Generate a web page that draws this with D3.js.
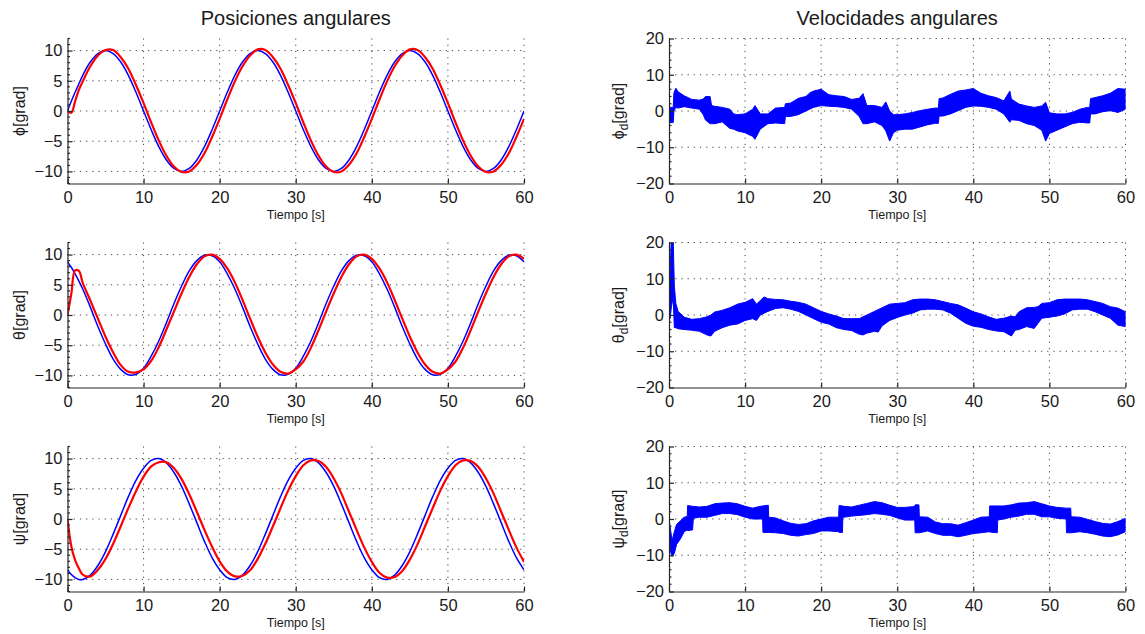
<!DOCTYPE html>
<html>
<head>
<meta charset="utf-8">
<script src="https://cdn.jsdelivr.net/npm/d3@7"></script>
<style>
  body { margin: 0; background: #fff; }
  text { font-family: "Liberation Sans", Arial, Helvetica, sans-serif; fill: #1a1a1a; }
  .grid { stroke: #444; stroke-width: 1; stroke-dasharray: 1.2 5; }
  .axis path, .axis line { stroke: #262626; stroke-width: 1.2; }
</style>
</head>
<body>
<svg id="chart" width="1145" height="634"></svg>
<script>
// ---- data ----
const xTicks = [0, 10, 20, 30, 40, 50, 60];
const posTicks = [-10, -5, 0, 5, 10];
const velTicks = [-20, -10, 0, 10, 20];

// sample times for the position curves [s]
const tPos = [0, 0.5, 1, 1.5, 2,
  3, 4, 5, 6, 7, 8, 9, 10,
  11, 12, 13, 14, 15, 16, 17, 18, 19, 20,
  21, 22, 23, 24, 25, 26, 27, 28, 29, 30,
  31, 32, 33, 34, 35, 36, 37, 38, 39, 40,
  41, 42, 43, 44, 45, 46, 47, 48, 49, 50,
  51, 52, 53, 54, 55, 56, 57, 58, 59, 60];

const phiRef = [0, 1.6, 3.1, 4.5, 5.9,
  8.1, 9.5, 10, 9.5, 8.1, 5.9, 3.1, 0,
  -3.1, -5.9, -8.1, -9.5, -10, -9.5, -8.1, -5.9, -3.1, 0,
  3.1, 5.9, 8.1, 9.5, 10, 9.5, 8.1, 5.9, 3.1, 0,
  -3.1, -5.9, -8.1, -9.5, -10, -9.5, -8.1, -5.9, -3.1, 0,
  3.1, 5.9, 8.1, 9.5, 10, 9.5, 8.1, 5.9, 3.1, 0,
  -3.1, -5.9, -8.1, -9.5, -10, -9.5, -8.1, -5.9, -3.1, 0];
const phiReal = [0, -0.3, 1.6, 3.5, 4.9,
  7.4, 9.2, 10.1, 10.1, 8.9, 7.0, 4.3, 1.3,
  -1.9, -4.9, -7.4, -9.2, -10.1, -10.0, -8.9, -7.0, -4.3, -1.3,
  1.9, 4.9, 7.4, 9.2, 10.2, 10.1, 8.9, 7.0, 4.3, 1.3,
  -1.9, -4.9, -7.4, -9.2, -10.1, -10.0, -8.9, -7.0, -4.3, -1.3,
  1.9, 4.9, 7.4, 9.2, 10.2, 10.1, 8.9, 7.0, 4.3, 1.3,
  -1.9, -4.9, -7.4, -9.2, -10.1, -10.0, -8.9, -7.0, -4.3, -1.3];

const thetaRef = [8.8, 7.9, 6.8, 5.6, 4.3,
  1.3, -1.9, -4.8, -7.3, -9.0, -9.9, -9.8, -8.8,
  -6.8, -4.3, -1.3, 1.9, 4.8, 7.3, 9.0, 9.9, 9.8, 8.8,
  6.8, 4.3, 1.3, -1.9, -4.8, -7.3, -9.0, -9.9, -9.8, -8.8,
  -6.8, -4.3, -1.3, 1.9, 4.8, 7.3, 9.0, 9.9, 9.8, 8.8,
  6.8, 4.3, 1.3, -1.9, -4.8, -7.3, -9.0, -9.9, -9.8, -8.8,
  -6.8, -4.3, -1.3, 1.9, 4.8, 7.3, 9.0, 9.9, 9.8, 8.8];
const thetaReal = [0, 3.5, 7.4, 7.3, 5.3,
  2.4, -0.6, -3.6, -6.2, -8.3, -9.4, -9.5, -9.0,
  -7.6, -5.3, -2.4, 0.6, 3.6, 6.3, 8.4, 9.7, 10.0, 9.3,
  7.7, 5.4, 2.5, -0.6, -3.6, -6.2, -8.2, -9.4, -9.7, -9.0,
  -7.7, -5.4, -2.5, 0.6, 3.6, 6.3, 8.4, 9.7, 10.0, 9.3,
  7.7, 5.4, 2.5, -0.6, -3.6, -6.2, -8.2, -9.4, -9.7, -9.0,
  -7.7, -5.4, -2.5, 0.6, 3.6, 6.3, 8.4, 9.7, 10.0, 9.3];

const psiRef = [-8.4, -9.2, -9.7, -10.0, -10.0,
  -9.3, -7.7, -5.4, -2.5, 0.6, 3.7, 6.4, 8.4,
  9.7, 10.0, 9.3, 7.7, 5.4, 2.5, -0.6, -3.7, -6.4, -8.4,
  -9.7, -10.0, -9.3, -7.7, -5.4, -2.5, 0.6, 3.7, 6.4, 8.4,
  9.7, 10.0, 9.3, 7.7, 5.4, 2.5, -0.6, -3.7, -6.4, -8.4,
  -9.7, -10.0, -9.3, -7.7, -5.4, -2.5, 0.6, 3.7, 6.4, 8.4,
  9.7, 10.0, 9.3, 7.7, 5.4, 2.5, -0.6, -3.7, -6.4, -8.4];
const psiReal = [0, -4.5, -6.8, -8.2, -9.2,
  -9.5, -8.4, -6.6, -4.1, -1.2, 1.8, 4.6, 7.0,
  8.7, 9.4, 9.4, 8.4, 6.6, 4.1, 1.2, -1.8, -4.6, -7.0,
  -8.7, -9.5, -9.4, -8.5, -6.6, -4.1, -1.2, 1.8, 4.7, 7.1,
  8.9, 9.7, 9.6, 8.6, 6.7, 4.2, 1.2, -1.8, -4.7, -7.1,
  -8.9, -9.7, -9.6, -8.6, -6.7, -4.2, -1.2, 1.8, 4.7, 7.1,
  8.9, 9.7, 9.6, 8.6, 6.7, 4.2, 1.2, -1.8, -4.7, -7.1];

// velocity bands: [time, lower edge, upper edge]
const phiDotBand = [
  [0, -3.2, 1], [0.55, -3.2, 1], [0.65, 0, 5], [0.9, 1, 6.3], [1.2, 0.8, 5.3],
  [2, 1.2, 4.2], [3, 0.8, 3.2], [4, 0.5, 3], [4.5, -1, 3.3], [4.8, -2.5, 4],
  [5.4, -3.5, 4], [5.6, -3.5, 1.5], [6, -3.5, 1.3], [7, -3, 1], [8, -4.8, 0.5],
  [8.5, -5, -0.8], [9, -5.5, -1], [10, -6, -0.8], [11, -7, 0.5], [11.3, -7.8, 1.5],
  [12, -5, -0.8], [13, -3.5, -0.8], [14, -3.3, 0.8], [15.2, -3.5, 1], [15.3, -1.5, 2],
  [16, -1.5, 2.2], [17, -1, 3.5], [18, 0, 4], [18.5, 0.5, 5], [19, 1, 5.5],
  [20, 1.5, 6], [21, 1.3, 4.5], [22, 1.2, 4.2], [23, 1, 4], [24, 0.5, 3.2],
  [25, -1.5, 3.5], [25.5, -3.5, 4.8], [26, -3.5, 1.5], [27, -3, 1.5], [28, -4, 1],
  [28.5, -5.5, 2.5], [29, -8.3, 0], [29.5, -6, -1], [30, -5.3, -1], [31, -5, -0.8],
  [32, -5, -0.4], [33, -4.4, 0.1], [34, -3.8, 0.5], [35, -3.4, 0.8], [35.4, -3.4, 0.8],
  [35.5, -1.4, 3.4], [36, -1.4, 3.6], [37, -0.8, 4.6], [38, 0.1, 5.5], [39, 1, 5.8],
  [40, 1.4, 6.2], [41, 1.3, 4.9], [42, 1, 4.2], [43, 0.5, 3.7], [44, -0.8, 2.8],
  [44.8, -3.1, 5.5], [45, -2.4, 3.3], [46, -2.6, 1.9], [47, -3.5, 1.4], [48, -4, 1],
  [49, -5.3, 1.4], [49.5, -8.3, 2.4], [50, -6.2, -0.5], [51, -5.3, -0.8], [52, -4.4, -0.8],
  [53, -3.5, -0.4], [54, -3.1, 0.5], [55, -3.3, 1], [55.3, -3.3, 1], [55.4, -0.8, 3.4],
  [56, -0.8, 3.7], [57, -0.2, 4.2], [58, 0.1, 4.9], [59, -0.4, 6.2], [60, 0.5, 6]
];

const thetaDotBand = [
  [0, -1, 0], [0.15, -1, 12], [0.3, 2, 21], [0.55, 5, 21], [0.7, -3.5, 8],
  [0.9, -3.5, 3.2], [1.2, -3.8, 1], [2, -4, -0.6], [3, -4.2, -1.2], [4, -4.5, -1],
  [5, -5.5, -0.5], [5.5, -5.8, 0], [6, -4.5, 0.8], [7, -3.5, 1.3], [8, -2.8, 2],
  [9, -2.5, 3], [10, -1.5, 3.5], [11, -1, 4.5], [11.5, -1.5, 3], [12, 0, 4],
  [12.5, 0.5, 5], [13, 1, 4.5], [14, 1.8, 4.3], [15, 2, 4.2], [16, 1.6, 3.8],
  [17, 1, 3.5], [18, 0, 3], [19, -1, 2], [20, -2, 1], [21, -2.5, 0.3],
  [22, -3.5, -0.3], [23, -4, -1], [24, -4.3, -1], [25, -5.3, -1], [25.5, -5.5, -0.5],
  [26, -5, 0], [27, -4.5, 1], [27.5, -4.7, 1.5], [28, -3, 2], [29, -1.5, 3],
  [30, -0.7, 3.2], [31, 0, 3.4], [32, 0.5, 4.2], [33, 1.4, 4.4], [34, 1.6, 4.4],
  [35, 1.6, 4.2], [36, 1.4, 3.7], [37, 0.5, 3.2], [38, -0.9, 2.8], [39, -2.3, 1.9],
  [40, -3.1, 0.9], [41, -3.4, 0.3], [42, -4, -0.5], [43, -4.4, -1.2], [44, -4.6, -0.9],
  [45, -5.8, -0.3], [45.5, -4.2, -0.5], [46, -4, 0.9], [47, -3.2, 2], [48, -3.7, 2.1],
  [48.5, -2.3, 2.3], [49, -0.9, 3.2], [50, -0.6, 3.4], [51, -0.3, 4.2], [52, 0.3, 4.4],
  [53, 1.4, 4.4], [54, 1.6, 4.4], [55, 1.6, 4.2], [56, 0.9, 3.7], [57, 0, 3.2],
  [58, -0.9, 2.3], [59, -2.8, 1.9], [60, -3.2, 0.9]
];

const psiDotBand = [
  [0, -2, 0], [0.2, -9, -3], [0.4, -10.3, -6], [0.7, -9.5, -3.5], [1, -7, -1.5],
  [1.5, -5.5, -0.5], [2, -3.5, 0.5], [2.4, -3, 0.7], [2.45, -3.2, 3.7], [3.1, -3, 3.5],
  [3.2, 0.2, 3.5], [4, 0.5, 3.3], [5, 0.5, 3.5], [6, 1, 4.2], [7, 1.5, 4.4],
  [8, 1.5, 4.5], [9, 1.2, 4.2], [10, 0.5, 3.5], [11, 0, 3], [12, 0, 3.5],
  [12.3, 0, 3.6], [12.35, -3.7, 3.6], [13.05, -3.7, 3.8], [13.1, -3.7, 0.5], [14, -3.8, 0.3],
  [15, -4, -0.5], [16, -4.5, -1.2], [17, -4.7, -1.5], [18, -4.3, -1.3], [19, -4, -0.5],
  [20, -3.3, 0], [21, -3.3, 0.5], [22.3, -3.5, 0.5], [22.35, -3.7, 3.7], [22.8, -3.7, 3.6],
  [22.85, 0.5, 3.6], [23, 0.5, 3.5], [24, 0.8, 3.3], [25, 1, 3.8], [26, 1.2, 4.3],
  [27, 1.5, 4.8], [28, 1.3, 4.5], [29, 1, 3.8], [30, 0.3, 3.2], [31, -0.3, 3.2],
  [32, -0.3, 3.4], [32.3, -0.3, 3.5], [32.35, -3.8, 3.9], [32.85, -3.8, 3.9], [32.9, -3.8, 0.6],
  [34, -3.3, 0.5], [35, -4, -0.8], [36, -4.5, -1.3], [37, -4.5, -1.3], [38, -4.9, -1.7],
  [39, -4.5, -1], [40, -4, -0.3], [41, -3.8, 0.5], [42.1, -3.5, 0.6], [42.15, -3.6, 3.6],
  [43.15, -3.8, 3.6], [43.2, -0.3, 3.6], [44, 0, 3.6], [45, 0.5, 3.9], [46, 0.8, 4.4],
  [47, 1.3, 4.5], [48, 1.3, 4.8], [49, 0.6, 4.2], [50, 0.6, 3.6], [51, 0.2, 3.2],
  [52.2, 0, 3], [52.25, -3.8, 3], [52.8, -3.8, 3], [52.85, -3.8, 0.6], [54, -3.5, 0.5],
  [55, -3.8, -0.1], [56, -4.2, -0.7], [57, -4.7, -1.2], [58, -4.9, -1.4], [59, -4.4, -0.7],
  [60, -3.5, 0.2]
];

[phiRef, phiReal, thetaRef, thetaReal, psiRef, psiReal].forEach((s, i) => {
  if (s.length !== tPos.length) throw new Error("series " + i + " has " + s.length + " values");
});

// ---- layout ----
const cols = [{ x0: 67.5, x1: 524 }, { x0: 669, x1: 1125.5 }];
const rowTops = [38.5, 242.5, 446.5];
const plotH = 145;

const svg = d3.select("#chart");
const fmt = d => (d < 0 ? "\u2212" + Math.abs(d) : String(d));

function panel(id, col, row, yDomain, yTicks, minorStep) {
  const c = cols[col], top = rowTops[row], bottom = top + plotH;
  const x = d3.scaleLinear().domain([0, 60]).range([c.x0, c.x1]);
  const y = d3.scaleLinear().domain(yDomain).range([bottom, top]);
  const g = svg.append("g");

  g.append("clipPath").attr("id", "clip" + id)
    .append("rect").attr("x", c.x0).attr("y", top)
    .attr("width", c.x1 - c.x0).attr("height", plotH);

  // dotted grid
  g.append("g").selectAll("line").data(xTicks.filter(d => d > 0)).join("line")
    .attr("class", "grid")
    .attr("x1", d => x(d)).attr("x2", d => x(d))
    .attr("y1", top).attr("y2", bottom);
  g.append("g").selectAll("line").data(yTicks.filter(d => d > yDomain[0])).join("line")
    .attr("class", "grid")
    .attr("x1", c.x0).attr("x2", c.x1)
    .attr("y1", d => y(d)).attr("y2", d => y(d));

  const plot = g.append("g").attr("clip-path", `url(#clip${id})`);

  // axes (ticks point inward, MATLAB style)
  const yAxis = g.append("g").attr("class", "axis")
    .attr("transform", `translate(${c.x0},0)`)
    .call(d3.axisLeft(y).tickValues(yTicks).tickFormat(fmt)
      .tickSizeInner(-5).tickSizeOuter(0).tickPadding(5));
  const minor = d3.range(yDomain[0], yDomain[1] + 0.001, minorStep)
    .filter(v => !yTicks.includes(v));
  yAxis.selectAll(".minor").data(minor).join("line")
    .attr("class", "minor")
    .attr("x1", 0).attr("x2", 2.5)
    .attr("y1", d => y(d)).attr("y2", d => y(d));

  g.append("g").attr("class", "axis")
    .attr("transform", `translate(0,${bottom})`)
    .call(d3.axisBottom(x).tickValues(xTicks).tickFormat(fmt)
      .tickSizeInner(-5).tickSizeOuter(0).tickPadding(8));

  g.selectAll(".axis text").style("font-size", "16.5px").attr("fill", "#1a1a1a");
  g.selectAll(".axis .domain").attr("stroke", "#262626");

  g.append("text")
    .attr("x", (c.x0 + c.x1) / 2).attr("y", bottom + 35)
    .attr("text-anchor", "middle").style("font-size", "12.5px")
    .text("Tiempo [s]");

  return { x, y, g, plot, c, top, bottom };
}

function yLabel(p, xPos, sym, sub) {
  const t = p.g.append("text")
    .attr("transform", `translate(${xPos},${(p.top + p.bottom) / 2}) rotate(-90)`)
    .attr("text-anchor", "middle").style("font-size", "16px");
  t.append("tspan").text(sym);
  if (sub) {
    t.append("tspan").attr("dy", 4).style("font-size", "12px").text(sub);
    t.append("tspan").attr("dy", -4).text("[grad]");
  } else {
    t.append("tspan").text("[grad]");
  }
}

function posPanel(id, row, ref, real, sym) {
  const p = panel(id, 0, row, [-12, 12], posTicks, 1);
  const line = vals => d3.line()
    .x(d => p.x(d[0])).y(d => p.y(d[1]))
    .curve(d3.curveCatmullRom.alpha(0.5))(d3.zip(tPos, vals));
  p.plot.append("path").attr("d", line(ref))
    .attr("fill", "none").attr("stroke", "#0000ff").attr("stroke-width", 1.5);
  p.plot.append("path").attr("d", line(real))
    .attr("fill", "none").attr("stroke", "#ff0000").attr("stroke-width", 2.2);
  yLabel(p, 25, sym, null);
}

function velPanel(id, row, band, sym) {
  const p = panel(id, 1, row, [-20, 20], velTicks, 2);
  const area = d3.area()
    .x(d => p.x(d[0])).y0(d => p.y(d[1])).y1(d => p.y(d[2]));
  p.plot.append("path").attr("d", area(band))
    .attr("fill", "#0000ff").attr("stroke", "#0000ff").attr("stroke-width", 1);
  yLabel(p, 624, sym, "d");
}

posPanel("a", 0, phiRef, phiReal, "\u03d5");
posPanel("b", 1, thetaRef, thetaReal, "\u03b8");
posPanel("c", 2, psiRef, psiReal, "\u03c8");
velPanel("d", 0, phiDotBand, "\u03d5");
velPanel("e", 1, thetaDotBand, "\u03b8");
velPanel("f", 2, psiDotBand, "\u03c8");

svg.append("text").attr("x", (cols[0].x0 + cols[0].x1) / 2).attr("y", 25)
  .attr("text-anchor", "middle").style("font-size", "20px")
  .text("Posiciones angulares");
svg.append("text").attr("x", (cols[1].x0 + cols[1].x1) / 2).attr("y", 25)
  .attr("text-anchor", "middle").style("font-size", "20px")
  .text("Velocidades angulares");
</script>
</body>
</html>
